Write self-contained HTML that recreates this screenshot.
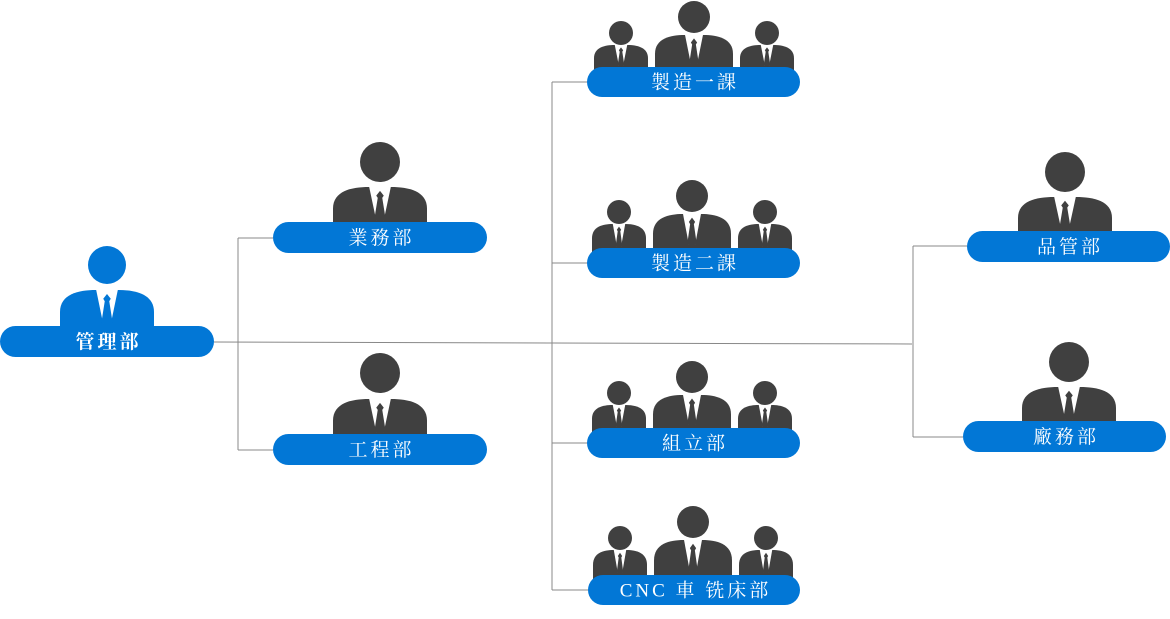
<!DOCTYPE html>
<html><head><meta charset="utf-8"><style>
html,body{margin:0;padding:0;background:#fff;width:1170px;height:619px;overflow:hidden}
svg text{font-family:"Liberation Serif","Noto Serif CJK SC",serif;fill:#fff;font-size:19px;text-anchor:middle;dominant-baseline:central;letter-spacing:3px}
</style></head><body>
<svg id="s" width="1170" height="619" viewBox="0 0 1170 619">
<g stroke="#888" stroke-width="1" fill="none">
<path d="M214 342 L912 344"/>
<path d="M238 238 V450 M238 238 H273 M238 450 H273"/>
<path d="M552 82 V590 M552 82 H587 M552 263 H587 M552 443 H587 M552 590 H588"/>
<path d="M913 246 V437 M913 246 H967 M913 437 H963"/>
</g>
<g id="people"></g>
<g id="pills"></g>
</svg>
<script>
var P=document.getElementById('people'),B=document.getElementById('pills'),ns='http://www.w3.org/2000/svg';
function el(p,t,a,txt){var e=document.createElementNS(ns,t);for(var k in a)e.setAttribute(k,a[k]);if(txt)e.textContent=txt;p.appendChild(e);return e;}
function person(cx,hy,r,bt,bb,w,col){
 var l=cx-w/2,h=bb-bt;
 el(P,'circle',{cx:cx,cy:hy,r:r,fill:col});
 el(P,'path',{d:'M'+l+' '+(bb+2)+' V'+(bt+h*0.55)+' C'+l+' '+(bt+h*0.1)+' '+(cx-w*0.3)+' '+bt+' '+(cx-w*0.12)+' '+bt+' H'+(cx+w*0.12)+' C'+(cx+w*0.3)+' '+bt+' '+(l+w)+' '+(bt+h*0.1)+' '+(l+w)+' '+(bt+h*0.55)+' V'+(bb+2)+' Z',fill:col});
 var cw=w*0.115;
 el(P,'path',{d:'M'+(cx-cw)+' '+bt+' H'+(cx+cw)+' L'+(cx+cw*0.35)+' '+(bb-h*0.15)+' H'+(cx-cw*0.35)+' Z',fill:'#fff'});
 var k=w*0.04;
 el(P,'path',{d:'M'+cx+' '+(bt+h*0.1)+' L'+(cx+k)+' '+(bt+h*0.22)+' L'+(cx+k*0.6)+' '+(bt+h*0.28)+' L'+(cx+k*1.5)+' '+(bb-h*0.18)+' L'+cx+' '+(bb-h*0.08)+' L'+(cx-k*1.5)+' '+(bb-h*0.18)+' L'+(cx-k*0.6)+' '+(bt+h*0.28)+' L'+(cx-k)+' '+(bt+h*0.22)+' Z',fill:col});
}
function pill(x1,x2,y1,y2,t,bold){
 el(B,'rect',{x:x1,y:y1,width:x2-x1,height:y2-y1,rx:(y2-y1)/2,fill:'#0277d6'});
 var tx=el(B,'text',{x:(x1+x2)/2+1.5,y:(y1+y2)/2+1},t);if(bold)tx.setAttribute('font-weight','bold');
}
var D='#404040',BL='#0277d6';
person(107,265,19,290,330,94,BL);pill(0,214,326,357,'管理部',1);
person(380,162,20,187,226,94,D);pill(273,487,222,253,'業務部');
person(380,373,20,399,438,94,D);pill(273,487,434,465,'工程部');
person(1065,172,20,197,235,94,D);pill(967,1170,231,262,'品管部');
person(1069,362,20,387,425,94,D);pill(963,1166,421,452,'廠務部');
function group(a,b,c,by,x1,x2,y1,y2,t){
 person(a,by-15,12,by-3,y1+2,54,D);
 person(b,by-31,16,by-13,y1+2,78,D);
 person(c,by-15,12,by-3,y1+2,54,D);
 pill(x1,x2,y1,y2,t);
}
group(621,694,767,48,587,800,67,97,'製造一課');
group(619,692,765,227,587,800,248,278,'製造二課');
group(619,692,765,408,587,800,428,458,'組立部');
group(620,693,766,553,588,800,575,605,'CNC 車 铣床部');
</script>
</body></html>
